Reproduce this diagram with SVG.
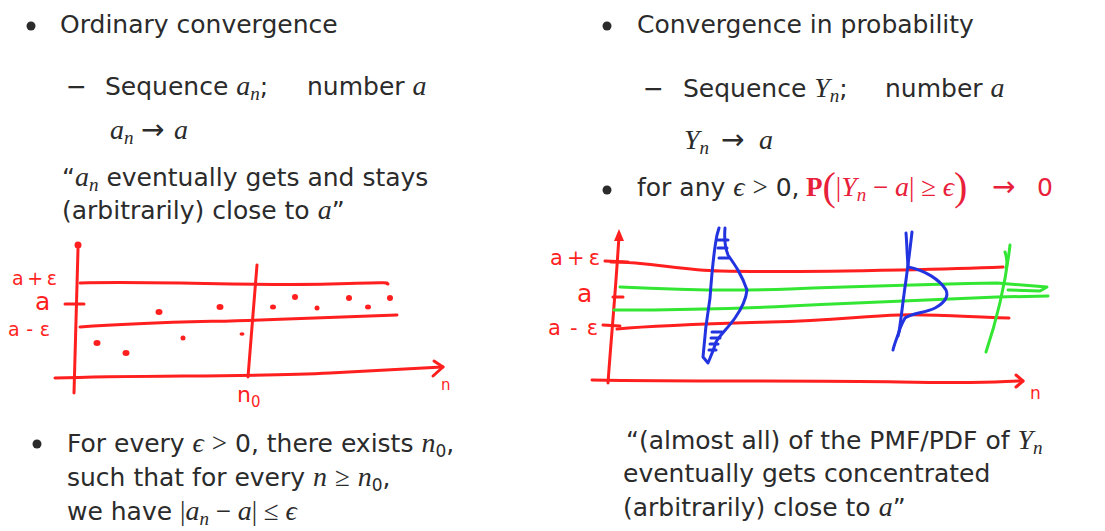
<svg xmlns="http://www.w3.org/2000/svg" width="1105" height="531" viewBox="0 0 1105 531">
<style>
.t{font-family:"DejaVu Sans","Liberation Sans",sans-serif;font-size:25px;fill:#2b2b2b}
.m{font-family:"Liberation Serif","DejaVu Serif",serif;font-style:italic;font-size:28px}
.ms{font-family:"Liberation Serif","DejaVu Serif",serif;font-style:italic;font-size:19px}
.up{font-family:"Liberation Serif","DejaVu Serif",serif;font-size:27px}
.arr{font-family:"DejaVu Sans","Liberation Sans",sans-serif;font-size:28px}
.big{font-family:"Liberation Serif","DejaVu Serif",serif;font-size:40px}
.sub{font-size:17px}
.red{fill:#e8203a}
.hw{font-family:"DejaVu Sans","Liberation Sans",sans-serif;fill:#ff1f1f}
.rl{fill:none;stroke:#ff1f1f;stroke-width:3;stroke-linecap:round;stroke-linejoin:round}
.bl{fill:none;stroke:#2233e0;stroke-width:3;stroke-linecap:round;stroke-linejoin:round}
.gl{fill:none;stroke:#33e633;stroke-width:3;stroke-linecap:round;stroke-linejoin:round}
.dot{fill:#ff1f1f}
</style>
<rect width="1105" height="531" fill="#ffffff"/>

<!-- Left column text -->
<g id="left-text">
<circle cx="31" cy="26" r="4.5" fill="#2b2b2b"/>
<text class="t" x="60" y="33">Ordinary convergence</text>
<text class="t" x="66" y="95">−</text>
<text class="t" x="105" y="95">Sequence <tspan class="m">a</tspan><tspan class="ms" dy="5">n</tspan><tspan dy="-5">;</tspan><tspan x="307">number </tspan><tspan class="m">a</tspan></text>
<text class="t" x="110" y="139"><tspan class="m">a</tspan><tspan class="ms" dy="5">n</tspan><tspan class="arr" dy="-5" x="141">→</tspan><tspan class="m" x="174">a</tspan></text>
<text class="t" x="62" y="186">“<tspan class="m">a</tspan><tspan class="ms" dy="5">n</tspan><tspan dy="-5"> eventually gets and stays</tspan></text>
<text class="t" x="62" y="219">(arbitrarily) close to <tspan class="m">a</tspan>”</text>
</g>

<g id="left-bottom-text">
<circle cx="37" cy="444" r="4.5" fill="#2b2b2b"/>
<text class="t" x="67" y="452">For every <tspan class="m">ϵ</tspan> <tspan class="up">&gt;</tspan> 0, there exists <tspan class="m">n</tspan><tspan class="sub" dy="5">0</tspan><tspan dy="-5">,</tspan></text>
<text class="t" x="67" y="486">such that for every <tspan class="m">n</tspan> <tspan class="up">≥</tspan> <tspan class="m">n</tspan><tspan class="sub" dy="5">0</tspan><tspan dy="-5">,</tspan></text>
<text class="t" x="67" y="520">we have <tspan class="up">|</tspan><tspan class="m">a</tspan><tspan class="ms" dy="5">n</tspan><tspan class="up" dy="-5"> − </tspan><tspan class="m">a</tspan><tspan class="up">| ≤ </tspan><tspan class="m">ϵ</tspan></text>
</g>

<!-- Right column text -->
<g id="right-text">
<circle cx="607" cy="26" r="4.5" fill="#2b2b2b"/>
<text class="t" x="637" y="33">Convergence in probability</text>
<text class="t" x="643" y="97">−</text>
<text class="t" x="683" y="97">Sequence <tspan class="m">Y</tspan><tspan class="ms" dy="5">n</tspan><tspan dy="-5">;</tspan><tspan x="885">number </tspan><tspan class="m">a</tspan></text>
<text class="t" x="684" y="149"><tspan class="m">Y</tspan><tspan class="ms" dy="5">n</tspan><tspan class="arr" dy="-5" x="721">→</tspan><tspan class="m" x="759">a</tspan></text>
<circle cx="607" cy="190" r="4.5" fill="#2b2b2b"/>
<text class="t" x="637" y="196">for any <tspan class="m">ϵ</tspan> <tspan class="up">&gt;</tspan> 0, <tspan class="red"><tspan class="up" font-weight="bold" x="806">P</tspan><tspan class="big" dy="4">(</tspan><tspan class="up" dy="-4">|</tspan><tspan class="m">Y</tspan><tspan class="ms" dy="5">n</tspan><tspan class="up" dy="-5"> − </tspan><tspan class="m">a</tspan><tspan class="up">| ≥ </tspan><tspan class="m">ϵ</tspan><tspan class="big" dy="4">)</tspan><tspan class="arr" dy="-4" x="992">→</tspan><tspan x="1037">0</tspan></tspan></text>
</g>

<g id="right-bottom-text">
<text class="t" x="626" y="449">“(almost all) of the PMF/PDF of <tspan class="m">Y</tspan><tspan class="ms" dy="5">n</tspan></text>
<text class="t" x="623" y="482">eventually gets concentrated</text>
<text class="t" x="623" y="516">(arbitrarily) close to <tspan class="m">a</tspan>”</text>
</g>

<!-- Left sketch -->
<g id="left-graph">
<path class="rl" d="M78,249 C77,300 75,350 74,393"/>
<circle cx="78" cy="245" r="3.5" fill="#ff1f1f"/>
<path class="rl" d="M55,378 C150,375 250,377 330,373 S420,368 443,367"/>
<path class="rl" d="M434,361 L443,367 L433,376"/>
<path class="rl" d="M80,283 C160,281 250,286 330,284 S380,283 388,284"/>
<path class="rl" d="M65,304 L84,304"/>
<path class="rl" d="M80,327 C150,322 200,322 260,320 S360,316 397,315"/>
<path class="rl" d="M257,265 C254,300 251,340 248,377"/>
<ellipse class="dot" cx="97" cy="343" rx="3.5" ry="3"/>
<ellipse class="dot" cx="126" cy="353" rx="3.5" ry="3"/>
<ellipse class="dot" cx="159" cy="312" rx="3.5" ry="3"/>
<ellipse class="dot" cx="183" cy="338" rx="2.5" ry="2.5"/>
<ellipse class="dot" cx="220" cy="307" rx="3.5" ry="3"/>
<ellipse class="dot" cx="242" cy="334" rx="2.5" ry="1.8"/>
<ellipse class="dot" cx="273" cy="307" rx="3" ry="2.5"/>
<ellipse class="dot" cx="295" cy="297" rx="3" ry="3"/>
<ellipse class="dot" cx="317" cy="308" rx="2.5" ry="2.5"/>
<ellipse class="dot" cx="349" cy="298" rx="3" ry="3"/>
<ellipse class="dot" cx="368" cy="307" rx="3" ry="2.5"/>
<ellipse class="dot" cx="390" cy="298" rx="3" ry="3"/>
<text class="hw" x="12" y="285" font-size="19" textLength="45">a+ε</text>
<text class="hw" x="35" y="310" font-size="25">a</text>
<text class="hw" x="8" y="336" font-size="19" textLength="42">a-ε</text>
<text class="hw" x="441" y="390" font-size="15">n</text>
<text class="hw" x="237" y="402" font-size="22">n<tspan font-size="15" dy="5">0</tspan></text>
</g>

<!-- Right sketch -->
<g id="right-graph">
<path class="rl" d="M619,236 C615,300 611,340 608,383"/>
<path d="M614,241 L619,229 L624,241 Z" fill="#ff1f1f"/>
<path class="rl" d="M592,380 C700,382 800,380 900,382 S1000,381 1023,381"/>
<path class="rl" d="M1016,375 L1023,381 L1016,387"/>
<path class="rl" d="M605,261 L628,262"/>
<path class="rl" d="M613,297 L623,297"/>
<path class="rl" d="M603,325 L620,326"/>
<path class="rl" d="M611,262 C650,262 680,270 720,271 S850,271 900,270 S980,268 1003,267"/>
<path class="rl" d="M617,329 C660,325 700,324 770,322 S860,316 900,315 S980,318 1009,318"/>
<path class="gl" d="M620,287 C680,290 740,291 790,289 S900,285 997,283 L1047,287 L1040,291 L1008,290"/>
<path class="gl" d="M614,310 C680,310 730,309 790,306 S900,301 997,297 L1048,296"/>
<path class="gl" d="M1010,245 C1006,280 1000,310 986,352"/>
<path class="gl" d="M1005,252 C1007,258 1008,262 1006,268"/>
<path class="bl" d="M725,228 C724,240 726,250 728,255 C735,265 742,275 747,290 C746,300 742,308 735,318 C728,328 720,335 716,342 C713,352 710,358 708,363 L703,357 C705,330 708,310 710,298 C712,270 714,250 717,235 L719,228"/>
<path class="bl" stroke-width="2" d="M718,240 L728,240 M718,248 L727,248 M719,258 L729,258 M712,332 L722,332 M711,338 L720,338 M710,344 L718,344 M709,350 L716,350"/>
<path class="bl" d="M912,232 C910,250 908,265 906,280 C903,300 901,320 899,332 C896,340 894,345 893,350"/>
<path class="bl" d="M906,233 C907,245 907,255 908,265"/>
<path class="bl" d="M908,267 C925,270 940,280 946,290 C949,297 944,303 935,308 C925,313 912,313 905,318 C901,325 899,330 898,336"/>
<text class="hw" x="550" y="265" font-size="21" textLength="50">a+ε</text>
<text class="hw" x="577" y="302" font-size="25">a</text>
<text class="hw" x="548" y="335" font-size="21" textLength="50">a-ε</text>
<text class="hw" x="1030" y="399" font-size="17">n</text>
</g>
</svg>
